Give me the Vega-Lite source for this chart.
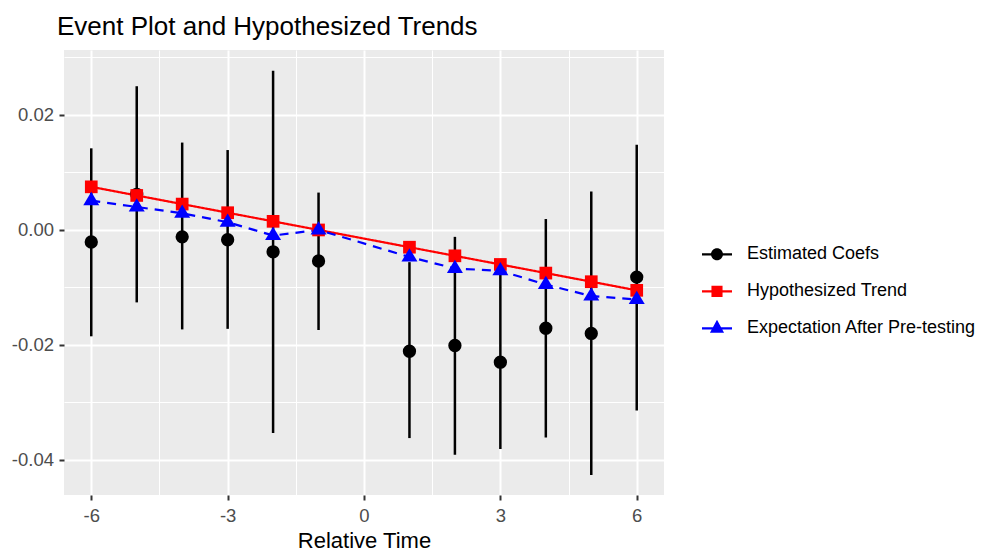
{
  "$schema": "https://vega.github.io/schema/vega-lite/v6.json",
  "width": 600,
  "height": 445,
  "autosize": {"type": "none"},
  "padding": {"left": 64, "top": 50, "right": 328, "bottom": 59},
  "background": "white",
  "title": {
    "text": "Event Plot and Hypothesized Trends",
    "anchor": "start",
    "frame": "group",
    "fontSize": 26,
    "fontWeight": "normal",
    "font": "Liberation Sans",
    "color": "black",
    "baseline": "alphabetic",
    "offset": -13,
    "dx": -7
  },
  "config": {
    "view": {"fill": "#ebebeb", "stroke": null},
    "font": "Liberation Sans",
    "axis": {
      "domain": false,
      "gridColor": "white",
      "gridOpacity": 1,
      "tickColor": "#333333",
      "tickSize": 5,
      "tickWidth": 2,
      "labelColor": "#4d4d4d",
      "labelFontSize": 18.5,
      "labelFont": "Liberation Sans",
      "titleFont": "Liberation Sans",
      "titleFontSize": 22,
      "titleFontWeight": "normal",
      "titleColor": "black",
      "labelOverlap": false,
      "labelFlush": false
    }
  },
  "data": {
    "values": [
      {"series": "Estimated Coefs", "t": -6, "value": -0.0021, "lo": -0.0185, "hi": 0.0142},
      {"series": "Estimated Coefs", "t": -5, "value": 0.0062, "lo": -0.0126, "hi": 0.0250},
      {"series": "Estimated Coefs", "t": -4, "value": -0.0012, "lo": -0.0173, "hi": 0.0152},
      {"series": "Estimated Coefs", "t": -3, "value": -0.0017, "lo": -0.0172, "hi": 0.0139},
      {"series": "Estimated Coefs", "t": -2, "value": -0.0038, "lo": -0.0353, "hi": 0.0277},
      {"series": "Estimated Coefs", "t": -1, "value": -0.0054, "lo": -0.0174, "hi": 0.0065},
      {"series": "Estimated Coefs", "t": 1, "value": -0.0211, "lo": -0.0362, "hi": -0.0056},
      {"series": "Estimated Coefs", "t": 2, "value": -0.0201, "lo": -0.0391, "hi": -0.0012},
      {"series": "Estimated Coefs", "t": 3, "value": -0.0230, "lo": -0.0381, "hi": -0.0072},
      {"series": "Estimated Coefs", "t": 4, "value": -0.0171, "lo": -0.0361, "hi": 0.0019},
      {"series": "Estimated Coefs", "t": 5, "value": -0.0180, "lo": -0.0426, "hi": 0.0067},
      {"series": "Estimated Coefs", "t": 6, "value": -0.0082, "lo": -0.0314, "hi": 0.0148},
      {"series": "Hypothesized Trend", "t": -6, "value": 0.0075},
      {"series": "Hypothesized Trend", "t": -5, "value": 0.0060},
      {"series": "Hypothesized Trend", "t": -4, "value": 0.0045},
      {"series": "Hypothesized Trend", "t": -3, "value": 0.0030},
      {"series": "Hypothesized Trend", "t": -2, "value": 0.0015},
      {"series": "Hypothesized Trend", "t": -1, "value": 0.0},
      {"series": "Hypothesized Trend", "t": 1, "value": -0.0030},
      {"series": "Hypothesized Trend", "t": 2, "value": -0.0045},
      {"series": "Hypothesized Trend", "t": 3, "value": -0.0060},
      {"series": "Hypothesized Trend", "t": 4, "value": -0.0075},
      {"series": "Hypothesized Trend", "t": 5, "value": -0.0090},
      {"series": "Hypothesized Trend", "t": 6, "value": -0.0105},
      {"series": "Expectation After Pre-testing", "t": -6, "value": 0.0051},
      {"series": "Expectation After Pre-testing", "t": -5, "value": 0.0040},
      {"series": "Expectation After Pre-testing", "t": -4, "value": 0.0029},
      {"series": "Expectation After Pre-testing", "t": -3, "value": 0.00135},
      {"series": "Expectation After Pre-testing", "t": -2, "value": -0.00097},
      {"series": "Expectation After Pre-testing", "t": -1, "value": 0.0},
      {"series": "Expectation After Pre-testing", "t": 1, "value": -0.0047},
      {"series": "Expectation After Pre-testing", "t": 2, "value": -0.0067},
      {"series": "Expectation After Pre-testing", "t": 3, "value": -0.0071},
      {"series": "Expectation After Pre-testing", "t": 4, "value": -0.0095},
      {"series": "Expectation After Pre-testing", "t": 5, "value": -0.0115},
      {"series": "Expectation After Pre-testing", "t": 6, "value": -0.0121}
    ]
  },
  "encoding": {
    "x": {
      "field": "t",
      "type": "quantitative",
      "scale": {"domain": [-6.6, 6.6], "nice": false, "zero": false},
      "axis": {
        "title": "Relative Time",
        "values": [-6, -4.5, -3, -1.5, 0, 1.5, 3, 4.5, 6],
        "labelExpr": "datum.value % 3 === 0 ? replace(format(datum.value, 'd'), '\u2212', '-') : ''",
        "gridWidth": {"condition": {"test": "datum.value % 3 !== 0", "value": 1}, "value": 2},
        "tickOpacity": {"condition": {"test": "datum.value % 3 !== 0", "value": 0}, "value": 1},
        "labelPadding": 6,
        "titlePadding": 6
      }
    },
    "y": {
      "field": "value",
      "type": "quantitative",
      "scale": {"domain": [-0.0461, 0.0313], "nice": false, "zero": false},
      "axis": {
        "title": null,
        "values": [-0.04, -0.03, -0.02, -0.01, 0, 0.01, 0.02, 0.03],
        "labelExpr": "abs(round(datum.value * 100)) % 2 === 0 ? replace(format(datum.value, '.2f'), '\u2212', '-') : ''",
        "gridWidth": {"condition": {"test": "abs(round(datum.value * 100)) % 2 === 1", "value": 1}, "value": 2},
        "tickOpacity": {"condition": {"test": "abs(round(datum.value * 100)) % 2 === 1", "value": 0}, "value": 1},
        "labelPadding": 5.5
      }
    },
    "color": {
      "field": "series",
      "type": "nominal",
      "scale": {
        "domain": ["Estimated Coefs", "Hypothesized Trend", "Expectation After Pre-testing"],
        "range": ["black", "#ff0000", "#0000ff"]
      },
      "legend": {
        "title": null,
        "orient": "none",
        "legendX": 634,
        "legendY": 186,
        "padding": 0,
        "rowPadding": 0,
        "clipHeight": 36.7,
        "symbolSize": 900,
        "symbolStrokeWidth": 0,
        "symbolOffset": 4,
        "symbolOpacity": 1,
        "labelOffset": 15,
        "labelFontSize": 18,
        "labelFont": "Liberation Sans",
        "labelColor": "black",
        "labelLimit": 0,
        "encode": {
          "symbols": {
            "update": {
              "shape": {"signal": "datum.value === 'Estimated Coefs' ? 'M-1,-0.075L1,-0.075L1,0.075L-1,0.075Z M-0.4,0A0.4,0.4,0,1,1,0.4,0A0.4,0.4,0,1,1,-0.4,0Z' : datum.value === 'Hypothesized Trend' ? 'M-1,-0.075L1,-0.075L1,0.075L-1,0.075Z M-0.37,-0.37L0.37,-0.37L0.37,0.37L-0.37,0.37Z' : 'M-1,-0.075L1,-0.075L1,0.075L-1,0.075Z M0,-0.58L0.47,0.29L-0.47,0.29Z'"},
              "fill": {"signal": "datum.value === 'Estimated Coefs' ? 'black' : datum.value === 'Hypothesized Trend' ? '#ff0000' : '#0000ff'"},
              "strokeWidth": {"value": 0},
              "opacity": {"value": 1},
              "size": {"value": 900}
            }
          }
        }
      }
    }
  },
  "layer": [
    {
      "transform": [{"filter": "datum.series === 'Estimated Coefs'"}],
      "mark": {"type": "rule", "strokeWidth": 2.5, "color": "black"},
      "encoding": {
        "y": {
          "field": "lo",
          "type": "quantitative",
          "scale": {"domain": [-0.0461, 0.0313], "nice": false, "zero": false},
          "axis": {
            "title": null,
            "values": [-0.04, -0.03, -0.02, -0.01, 0, 0.01, 0.02, 0.03],
            "labelExpr": "abs(round(datum.value * 100)) % 2 === 0 ? replace(format(datum.value, '.2f'), '\u2212', '-') : ''",
            "gridWidth": {"condition": {"test": "abs(round(datum.value * 100)) % 2 === 1", "value": 1}, "value": 2},
            "tickOpacity": {"condition": {"test": "abs(round(datum.value * 100)) % 2 === 1", "value": 0}, "value": 1},
            "labelPadding": 5.5
          }
        },
        "y2": {"field": "hi"},
        "color": {"value": "black"},
        "opacity": {
          "field": "series",
          "type": "ordinal",
          "scale": {
            "type": "ordinal",
            "domain": ["Expectation After Pre-testing", "Hypothesized Trend", "Estimated Coefs"],
            "range": [1, 1, 1]
          },
          "legend": {
            "title": null,
            "orient": "none",
            "legendX": 634,
            "legendY": 186,
            "padding": 0,
            "rowPadding": 0,
            "clipHeight": 36.7,
            "symbolSize": 1444,
            "symbolStrokeWidth": 0,
            "symbolOffset": 0,
            "symbolOpacity": 1,
            "labelExpr": "''",
            "labelFontSize": 18,
            "encode": {
              "symbols": {
                "update": {
                  "shape": {"value": "M-1,-0.966L1,-0.966L1,0.966L-1,0.966Z"},
                  "fill": {"value": "#ebebeb"},
                  "fillOpacity": {"value": 1},
                  "stroke": {"value": "transparent"},
                  "strokeWidth": {"value": 0},
                  "size": {"value": 1444}
                }
              }
            }
          }
        }
      }
    },
    {
      "transform": [{"filter": "datum.series !== 'Estimated Coefs'"}],
      "mark": {"type": "line", "strokeWidth": 2.2},
      "encoding": {
        "strokeDash": {
          "field": "series",
          "type": "nominal",
          "scale": {
            "domain": ["Hypothesized Trend", "Expectation After Pre-testing"],
            "range": [[1, 0], [9, 7]]
          },
          "legend": null
        }
      }
    },
    {
      "transform": [{"filter": "datum.series === 'Estimated Coefs'"}],
      "mark": {"type": "point", "filled": true, "opacity": 1, "shape": "circle", "size": 177}
    },
    {
      "transform": [{"filter": "datum.series === 'Hypothesized Trend'"}],
      "mark": {"type": "point", "filled": true, "opacity": 1, "shape": "square", "size": 161}
    },
    {
      "transform": [{"filter": "datum.series === 'Expectation After Pre-testing'"}],
      "mark": {"type": "point", "filled": true, "opacity": 1, "shape": "M0,-1.76L1.6,0.9L-1.6,0.9Z", "size": 100}
    }
  ]
}
